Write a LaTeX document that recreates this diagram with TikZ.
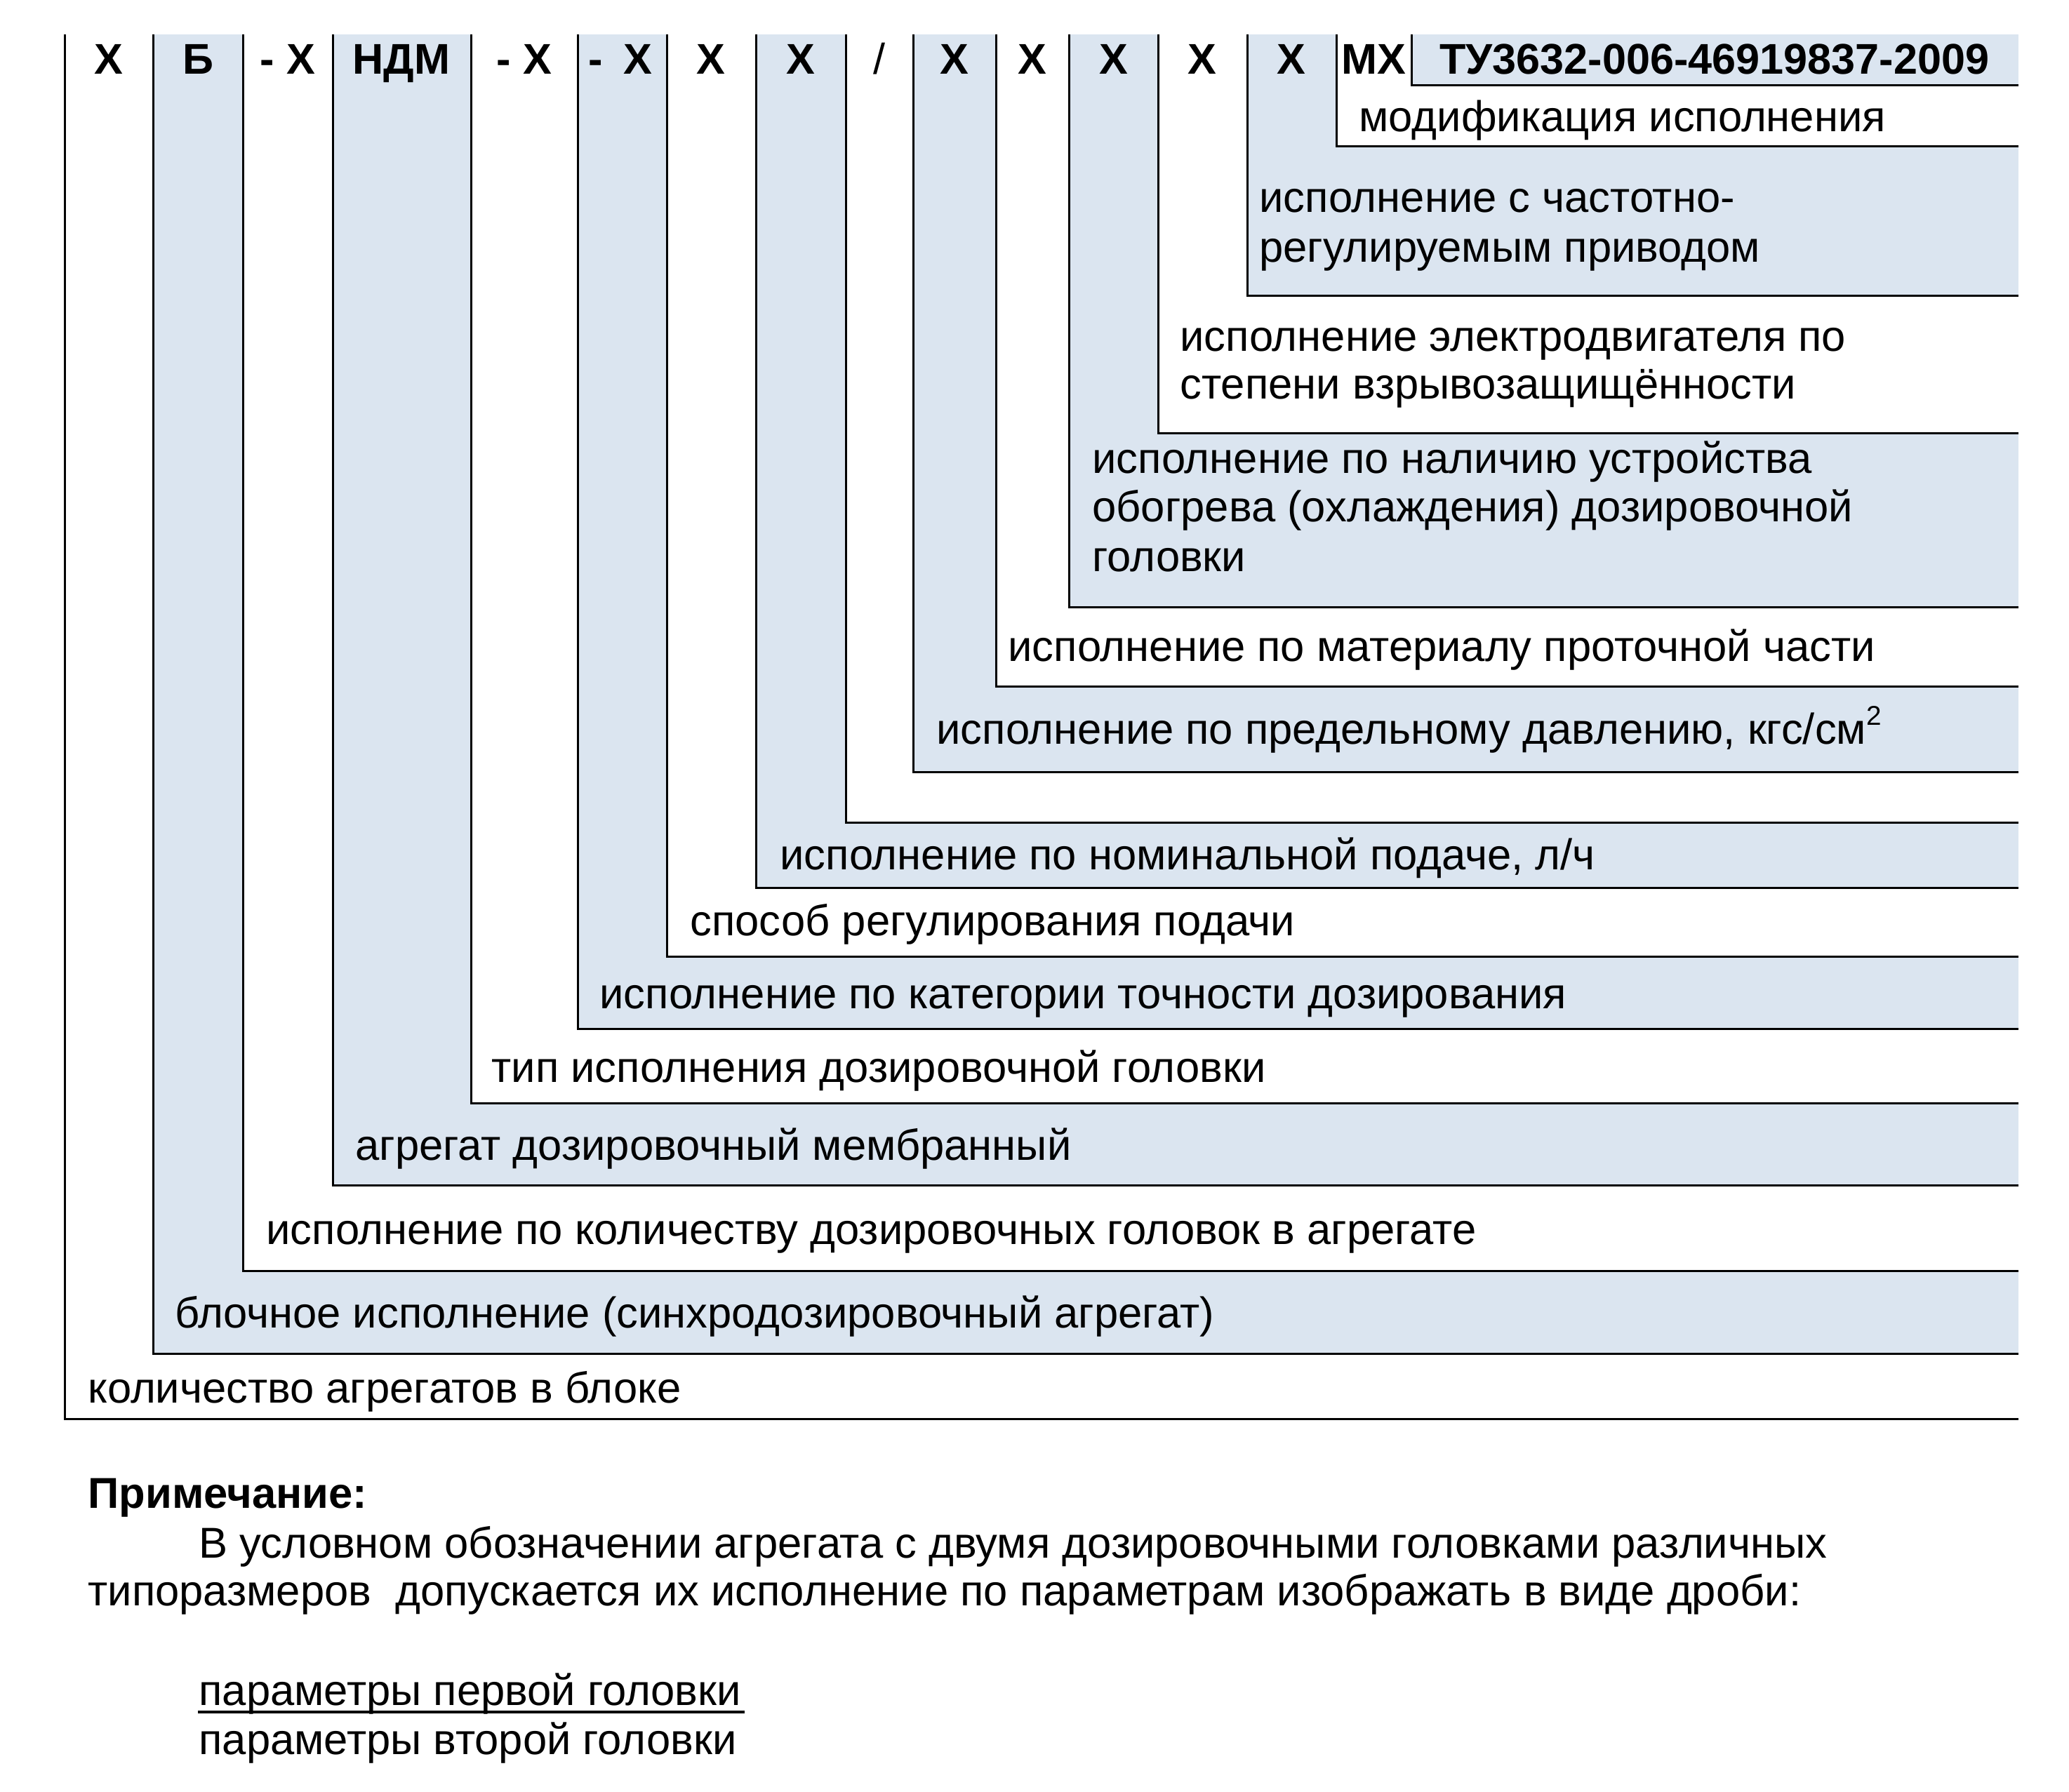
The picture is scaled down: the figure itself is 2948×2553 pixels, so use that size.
\documentclass[tikz,border=0pt]{standalone}
\usepackage{fontspec}
\setmainfont{Liberation Sans}
\definecolor{fillb}{RGB}{219,229,240}
\begin{document}
\begin{tikzpicture}[x=0.01cm,y=-0.01cm,line width=0.03cm,
  lbl/.style={anchor=base west,inner sep=0pt,font=\fontsize{17.5}{21}\selectfont},
  hdr/.style={anchor=base,inner sep=0pt,font=\fontsize{17.4}{20}\selectfont\bfseries},
  notehead/.style={anchor=base west,inner sep=0pt,font=\fontsize{17.5}{20}\selectfont\bfseries}]
\useasboundingbox[fill=white] (0,0) rectangle (2948,2553);
% nested L-shaped columns: x / bottom / fill
\foreach \x/\b/\c [count=\i] in {92/2022/white,218/1929/fillb,346/1811/white,474/1689/fillb,
  671/1572/white,823/1466/fillb,950/1363/white,1077/1265/fillb,1205/1172/white,
  1301/1100/fillb,1419/978/white,1523/865/fillb,1650/617/white,1777/421/fillb,
  1904/208/white,2011/121/fillb}{
  \fill[\c] (\x,49) rectangle (2876,\b);
  \coordinate (t\i) at (\x,49);
  \coordinate (r\i) at (2876,\b);
  \draw (t\i) |- (r\i);
}
% header
\node[hdr] (h1) at (155,105) {Х};
\node[hdr] (h2) at (282,105) {Б};
\node[hdr] (h3) at (410,105) {- Х};
\node[hdr] (h4) at (572,105) {НДМ};
\node[hdr] (h5) at (747,105) {- Х};
\node[hdr] (h6) at (884,105) {-\hspace{0.3cm}Х};
\node[hdr] (h7) at (1013,105) {Х};
\node[hdr] (h8) at (1141,105) {Х};
\node[anchor=base,inner sep=0pt,font=\fontsize{17.4}{20}\selectfont] (h9) at (1253,105) {/};
\node[hdr] (h10) at (1360,105) {Х};
\node[hdr] (h11) at (1471,105) {Х};
\node[hdr] (h12) at (1587,105) {Х};
\node[hdr] (h13) at (1713,105) {Х};
\node[hdr] (h14) at (1840,105) {Х};
\node[hdr] (h15) at (1957,105) {МХ};
\node[hdr] (h16) at (2443,105) {ТУ3632-006-46919837-2009};
% labels
\node[lbl] (l15) at (1935,187) {модификация исполнения};
\node[lbl] (l14a) at (1793,302) {исполнение с частотно-};
\node[lbl] (l14b) at (1793,373) {регулируемым приводом};
\node[lbl] (l13a) at (1680,500) {исполнение электродвигателя по};
\node[lbl] (l13b) at (1680,568) {степени взрывозащищённости};
\node[lbl] (l12a) at (1555,674) {исполнение по наличию устройства};
\node[lbl] (l12b) at (1555,743) {обогрева (охлаждения) дозировочной};
\node[lbl] (l12c) at (1555,814) {головки};
\node[lbl] (l11) at (1435,942) {исполнение по материалу проточной части};
\node[lbl] (l10) at (1333,1060) {исполнение по предельному давлению, кгс/см\raisebox{0.27cm}{\fontsize{11}{11}\selectfont 2}};
\node[lbl] (l8) at (1110,1239) {исполнение по номинальной подаче, л/ч};
\node[lbl] (l7) at (982,1333) {способ регулирования подачи};
\node[lbl] (l6) at (853,1437) {исполнение по категории точности дозирования};
\node[lbl] (l5) at (699,1542) {тип исполнения дозировочной головки};
\node[lbl] (l4) at (505,1653) {агрегат дозировочный мембранный};
\node[lbl] (l3) at (378,1773) {исполнение по количеству дозировочных головок в агрегате};
\node[lbl] (l2) at (248,1892) {блочное исполнение (синхродозировочный агрегат)};
\node[lbl] (l1) at (124,1999) {количество агрегатов в блоке};
% note
\node[notehead] (n0) at (124,2149) {Примечание:};
\node[lbl] (n1) at (282,2220) {В условном обозначении агрегата с двумя дозировочными головками различных};
\node[lbl] (n2) at (124,2288) {типоразмеров\ \ допускается их исполнение по параметрам изображать в виде дроби:};
\node[lbl] (p1) at (282,2430) {параметры первой головки};
\node[lbl] (p2) at (282,2500) {параметры второй головки};
\draw[line width=0.04cm] ([yshift=-0.1cm]p1.base west) -- ([yshift=-0.1cm,xshift=0.03cm]p1.base east);
\end{tikzpicture}
\end{document}
